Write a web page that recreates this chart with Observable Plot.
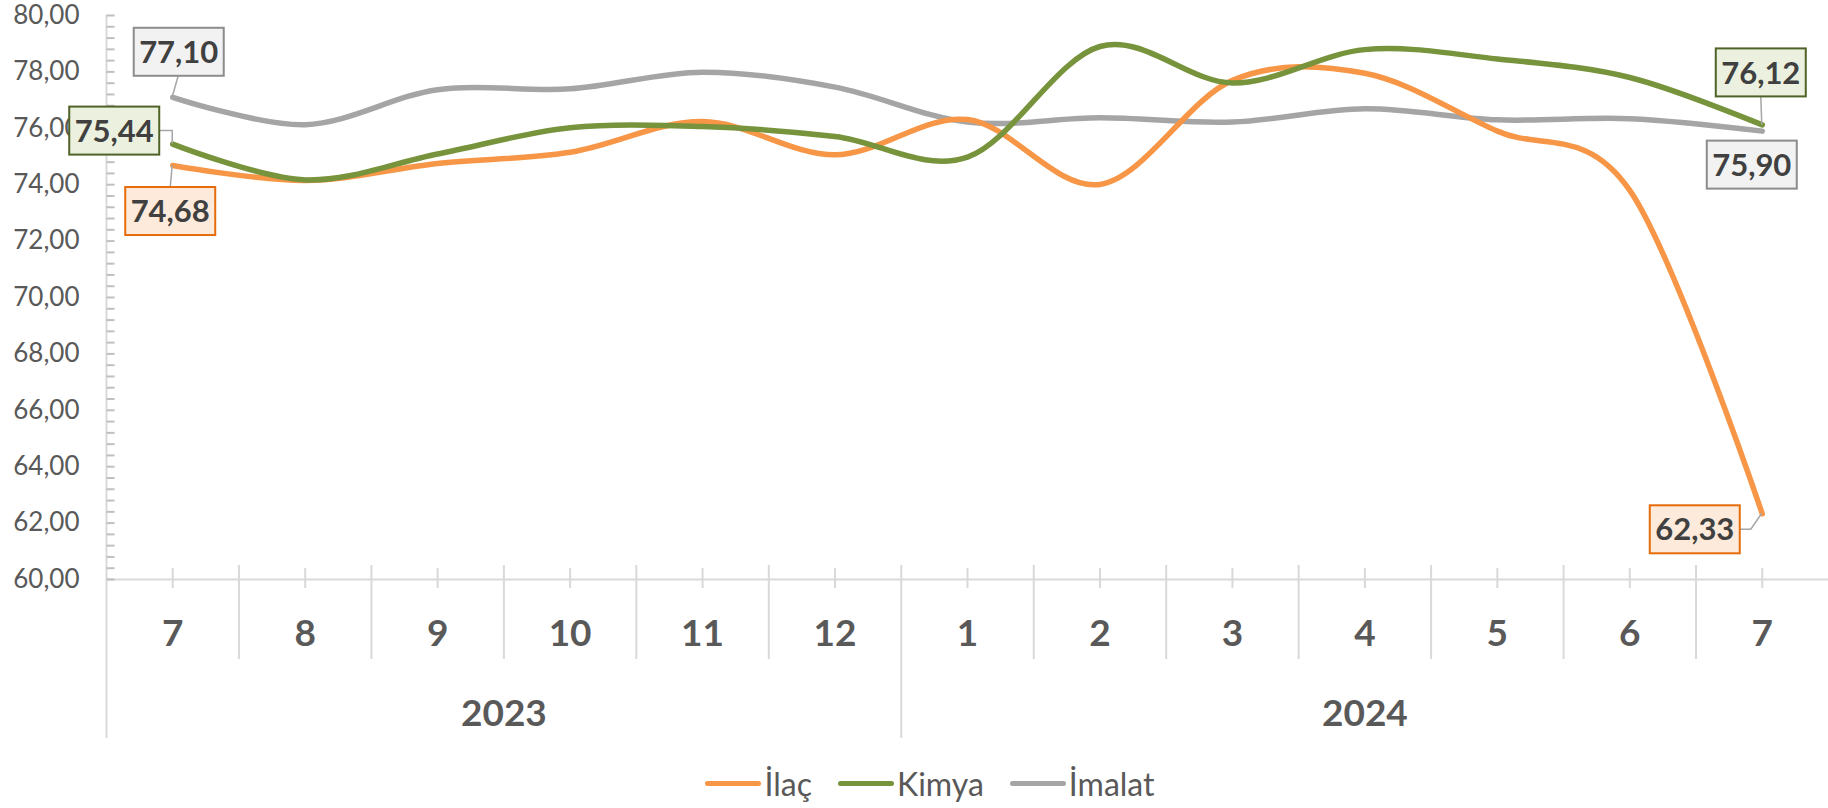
<!DOCTYPE html>
<html><head><meta charset="utf-8">
<script src="https://cdn.jsdelivr.net/npm/d3@7"></script>
<script src="https://cdn.jsdelivr.net/npm/@observablehq/plot@0.6"></script>
<style>
body{margin:0;background:#fff;font-family:Lato,"Open Sans",sans-serif;}
#legend{display:flex;justify-content:center;align-items:center;height:56px;box-sizing:border-box;padding-top:6px;padding-left:32px;font-size:32px;color:#595959}
.item{display:flex;align-items:center;margin:0 13px}
.sw{width:56px;height:5px;border-radius:3px;margin-right:3px}
</style></head><body>
<div id="chart"></div>
<div id="legend"></div>
<script>
// ---- data ----
const months = ["7","8","9","10","11","12","1","2","3","4","5","6","7"];
const years  = ["2023","2023","2023","2023","2023","2023","2024","2024","2024","2024","2024","2024","2024"];
const seriesNames = ["İlaç","Kimya","İmalat"];
const ilac   = [74.68, 74.15, 74.75, 75.15, 76.24, 75.06, 76.31, 74.01, 77.70, 77.95, 75.90, 73.80, 62.33];
const kimya  = [75.44, 74.17, 75.09, 76.02, 76.06, 75.71, 74.98, 78.90, 77.61, 78.79, 78.46, 77.80, 76.12];
const imalat = [77.10, 76.13, 77.37, 77.40, 77.99, 77.46, 76.22, 76.37, 76.22, 76.69, 76.30, 76.34, 75.90];
const yTicks = d3.range(60, 80.001, 2);
const yMinor = d3.range(0, 51).map(k => 60 + k * 0.4);

// ---- styles ----
const colors = ["#F79646", "#77933C", "#A5A5A5"];
const boxFill = ["#FDEADA", "#EBF1DE", "#F2F2F2"];
const boxStroke = ["#E46C0A", "#4F6228", "#8C8C8C"];
const values = [ilac, kimya, imalat];

const rows = [];
seriesNames.forEach((s, si) => values[si].forEach((v, i) => rows.push({s, si, i, v})));
const drawOrder = [2, 0, 1];

const monthSeps = [], yearSeps = [];
for (let i = 0; i < months.length - 1; i++) {
  (years[i] === years[i + 1] ? monthSeps : yearSeps).push(i + 0.5);
}
const yearGroups = d3.groups(months.map((m, i) => ({i, y: years[i]})), d => d.y)
  .map(([y, arr]) => ({y, c: (arr[0].i + arr[arr.length - 1].i) / 2}));

const fmt = d => d.toFixed(2).replace(".", ",");

const chart = Plot.plot({
  width: 1828, height: 752,
  marginLeft: 106, marginRight: 0, marginTop: 15, marginBottom: 173,
  x: {type: "linear", domain: [-0.5, months.length - 0.5], axis: null},
  y: {domain: [60, 80], axis: null},
  color: {domain: seriesNames, range: colors},
  style: {fontFamily: "Lato, 'Open Sans', sans-serif", background: "#fff", overflow: "visible"},
  marks: [
    Plot.ruleY([60], {stroke: "#d9d9d9", strokeWidth: 2}),
    Plot.ruleX([-0.5], {stroke: "#d9d9d9", strokeWidth: 2, insetBottom: -159}),
    Plot.ruleX(monthSeps, {stroke: "#d9d9d9", strokeWidth: 2, insetTop: 550, insetBottom: -80}),
    Plot.ruleX(yearSeps, {stroke: "#d9d9d9", strokeWidth: 2, insetTop: 550, insetBottom: -159}),
    Plot.ruleX(months.map((m, i) => i), {stroke: "#d9d9d9", strokeWidth: 2, insetTop: 553, insetBottom: -9}),
    Plot.dot(yMinor, {x: () => -0.5, y: d => d, stroke: "#bfbfbf", strokeWidth: 2, fill: "none",
      symbol: {draw(c) { c.moveTo(0, 0); c.lineTo(8, 0); }}}),
    Plot.axisY(yTicks, {anchor: "left", tickSize: 0, tickPadding: 27, tickFormat: fmt,
      fontSize: 26, fill: "#595959", label: null}),
    Plot.text(months.map((m, i) => ({m, i})), {x: "i", text: "m", frameAnchor: "bottom", dy: 66,
      fontSize: 37, fontWeight: "bold", fill: "#595959"}),
    Plot.text(yearGroups, {x: "c", text: "y", frameAnchor: "bottom", dy: 146,
      fontSize: 37, fontWeight: "bold", fill: "#595959"}),
    ...drawOrder.map(si => Plot.line(rows.filter(r => r.si === si), {x: "i", y: "v", stroke: "s",
      strokeWidth: 5.5, curve: "cardinal", strokeLinecap: "round", strokeLinejoin: "round"}))
  ]
});
document.getElementById("chart").appendChild(chart);

// ---- data labels ----
const labelSpecs = [
  {si: 2, i: 0, dx: 6.5, dy: -45, leader: [[0, 0], [6, -21]]},
  {si: 1, i: 0, dx: -58, dy: -13, leader: [[0, 0], [0, -13], [-13, -13]]},
  {si: 0, i: 0, dx: -2, dy: 46, leader: [[0, 0], [-2, 22]]},
  {si: 1, i: 12, dx: -1, dy: -52, leader: [[0, 0], [-1, -28]]},
  {si: 2, i: 12, dx: -10, dy: 34, leader: null},
  {si: 0, i: 12, dx: -67, dy: 16, leader: [[0, 0], [-11, 16], [-22, 16]]}
];
const sx = chart.scale("x"), sy = chart.scale("y");
const g = d3.select(chart).append("g");
labelSpecs.forEach(L => {
  const v = values[L.si][L.i];
  const px = sx.apply(L.i), py = sy.apply(v);
  if (L.leader) {
    g.append("path").attr("d", d3.line()(L.leader.map(([a, b]) => [px + a, py + b])))
      .attr("fill", "none").attr("stroke", "#a6a6a6").attr("stroke-width", 1.5);
  }
  const cx = px + L.dx, cy = py + L.dy;
  g.append("rect").attr("x", cx - 45).attr("y", cy - 24).attr("width", 90).attr("height", 48)
    .attr("fill", boxFill[L.si]).attr("stroke", boxStroke[L.si]).attr("stroke-width", 2);
  g.append("text").attr("x", cx).attr("y", cy).attr("text-anchor", "middle").attr("dy", "0.36em")
    .attr("font-size", 31).attr("font-weight", "bold").attr("fill", "#404040").text(fmt(v));
});

// ---- legend ----
const leg = d3.select("#legend");
seriesNames.forEach((s, si) => {
  const it = leg.append("div").attr("class", "item");
  it.append("div").attr("class", "sw").style("background", colors[si]);
  it.append("span").text(s);
});
</script>
</body></html>
